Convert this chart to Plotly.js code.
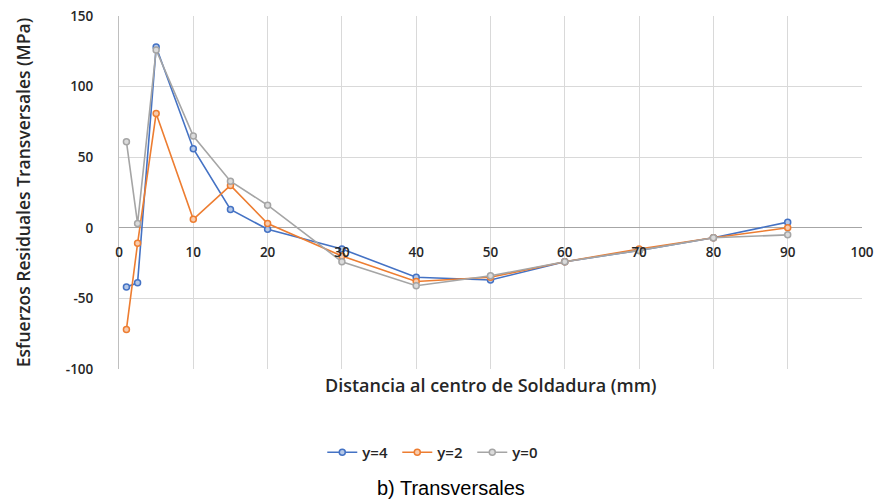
<!DOCTYPE html>
<html>
<head>
<meta charset="utf-8">
<script src="https://cdn.plot.ly/plotly-3.0.1.min.js"></script>
<style>html,body{margin:0;padding:0;background:#fff;}#chart{width:881px;height:502px;}</style>
</head>
<body>
<div id="chart"></div>
<script>
const distance = [1, 2.5, 5, 10, 15, 20, 30, 40, 50, 60, 70, 80, 90];
const y4 = [-42, -39, 128, 56, 13, -1, -15, -35, -37, -24, -16, -7, 4];
const y2 = [-72, -11, 81, 6, 30, 3, -20, -38, -35, -24, -15, -7, 0];
const y0 = [61, 3, 126, 65, 33, 16, -24, -41, -34, -24, -16, -7, -5];
const seriesNames = ['y=4', 'y=2', 'y=0'];
const xTicks = [0, 10, 20, 30, 40, 50, 60, 70, 80, 90, 100];
const yTicks = [-100, -50, 0, 50, 100, 150];
const xTitle = 'Distancia al centro de Soldadura (mm)';
const yTitle = 'Esfuerzos Residuales Transversales (MPa)';
const caption = 'b) Transversales';

const colors = ['#4472C4', '#ED7D31', '#A5A5A5'];
const fills = ['#b4c7e7', '#f8cbad', '#dbdbdb'];
const data = [y4, y2, y0].map((vals, i) => ({
  x: distance, y: vals, name: seriesNames[i], type: 'scatter', mode: 'lines+markers',
  line: {color: colors[i], width: 1.6},
  marker: {symbol: 'circle', size: 6, color: fills[i], line: {color: colors[i], width: 1.5}}
}));

const tickFont = {family: 'Open Sans, sans-serif', size: 13.5, color: '#262626', weight: 600};
const titleFont = {family: 'Open Sans, sans-serif', size: 18, color: '#262626', weight: 600};
const layout = {
  width: 881, height: 502,
  margin: {l: 119, r: 19, t: 16, b: 133},
  paper_bgcolor: '#fff', plot_bgcolor: '#fff',
  showlegend: true,
  legend: {orientation: 'h', x: 0.425, xanchor: 'center', y: -0.19, yanchor: 'top', yref: 'paper',
           entrywidth: 30, itemwidth: 30,
           font: {family: 'Open Sans, sans-serif', size: 15, color: '#262626', weight: 600}},
  xaxis: {
    range: [0, 100], tickvals: xTicks, ticktext: xTicks.map(String),
    showgrid: true, gridcolor: '#d9d9d9', gridwidth: 1,
    zeroline: false, showline: false, ticks: '',
    anchor: 'free', position: 0.4, ticklabelstandoff: 15,
    tickfont: tickFont
  },
  yaxis: {
    range: [-100, 150], tickvals: yTicks, ticktext: yTicks.map(String),
    showgrid: true, gridcolor: '#d9d9d9', gridwidth: 1,
    zeroline: true, zerolinecolor: '#a6a6a6', zerolinewidth: 1.2,
    showline: true, linecolor: '#bfbfbf', linewidth: 1, ticks: '',
    ticklabelstandoff: 22,
    tickfont: tickFont,
    title: {text: yTitle, standoff: 30, font: {family: 'Open Sans, sans-serif', size: 17.5, color: '#262626', weight: 600}}
  },
  annotations: [
    {text: xTitle, xref: 'paper', yref: 'paper', x: 0.5, y: -0.005, xanchor: 'center', yanchor: 'top', showarrow: false,
     font: titleFont},
    {text: caption, xref: 'paper', yref: 'paper', x: 0.447, y: -0.3, xanchor: 'center', yanchor: 'top', showarrow: false,
     font: {family: 'Liberation Sans, Arial, sans-serif', size: 20, color: '#000'}}
  ]
};
Plotly.newPlot('chart', data, layout, {displayModeBar: false, staticPlot: true});
</script>
</body>
</html>
